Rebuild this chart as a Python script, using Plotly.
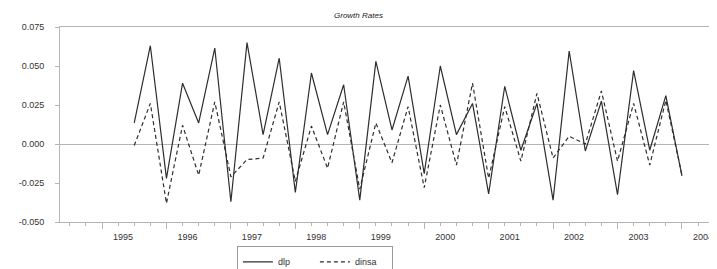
import plotly.graph_objects as go

# Quarterly growth rates, 1995Q3 .. 2004Q1
quarters = [1995.5 + 0.25 * i for i in range(35)]
dlp = [0.0135, 0.063, -0.022, 0.039, 0.0135, 0.0615, -0.037, 0.065, 0.006, 0.055,
       -0.031, 0.0455, 0.006, 0.038, -0.036, 0.053, 0.009, 0.0435, -0.019, 0.050,
       0.006, 0.026, -0.032, 0.037, -0.004, 0.026, -0.036, 0.0595, -0.0045, 0.0275,
       -0.0325, 0.047, -0.004, 0.031, -0.0205]
dinsa = [-0.001, 0.026, -0.038, 0.012, -0.020, 0.027, -0.021, -0.010, -0.009, 0.027,
         -0.024, 0.0115, -0.0155, 0.027, -0.029, 0.0135, -0.012, 0.024, -0.028, 0.025,
         -0.0135, 0.039, -0.022, 0.024, -0.011, 0.0325, -0.009, 0.005, 0.0, 0.034,
         -0.011, 0.026, -0.0135, 0.028, -0.020]
year_ticks = list(range(1995, 2005))
year_labels = [str(y) for y in year_ticks]
y_ticks = [-0.05, -0.025, 0.0, 0.025, 0.05, 0.075]
y_labels = ["-0.050", "-0.025", "0.000", "0.025", "0.050", "0.075"]

fig = go.Figure()
fig.add_trace(go.Scatter(x=quarters, y=dlp, mode="lines", name="dlp",
                         line=dict(color="#2e2e2e", width=1.2)))
fig.add_trace(go.Scatter(x=quarters, y=dinsa, mode="lines", name="dinsa",
                         line=dict(color="#2e2e2e", width=1.2, dash="4px,3px")))

axis_gray = "#b5b5b5"
fig.update_layout(
    width=717, height=269,
    margin=dict(l=52, r=8, t=19, b=55, autoexpand=False),
    paper_bgcolor="white", plot_bgcolor="white",
    font=dict(family="Liberation Sans, Arial", size=9, color="#333"),
    showlegend=True,
    legend=dict(orientation="h", x=0.388, xanchor="center", y=-0.125, yanchor="top",
                bordercolor="#999", borderwidth=1, font=dict(size=9, color="#333"),
                itemwidth=30, entrywidth=32),
    annotations=[dict(text="<i>Growth Rates</i>", xref="paper", yref="paper",
                      x=0.455, y=1.0, yshift=5, xanchor="center", yanchor="bottom",
                      showarrow=False, font=dict(size=8, color="#222"))],
)
fig.update_xaxes(range=[1994.348, 2004.544], tickmode="array", tickvals=year_ticks,
                 ticktext=year_labels, ticks="outside", ticklen=6, tickcolor=axis_gray,
                 ticklabelshift=21, showgrid=False, zeroline=False, automargin=False,
                 showline=True, linecolor=axis_gray, linewidth=1, mirror=True,
                 minor=dict(dtick=0.25, tick0=1995, ticks="outside", ticklen=3,
                            tickcolor=axis_gray, showgrid=False))
fig.update_yaxes(range=[-0.05, 0.075], tickmode="array", tickvals=y_ticks,
                 ticktext=y_labels, ticks="outside", ticklen=4, tickcolor=axis_gray,
                 ticklabelstandoff=9,
                 showgrid=False, zeroline=True, zerolinecolor=axis_gray, zerolinewidth=1,
                 showline=True, linecolor=axis_gray, linewidth=1, automargin=False)

fig.write_html("out.html")
